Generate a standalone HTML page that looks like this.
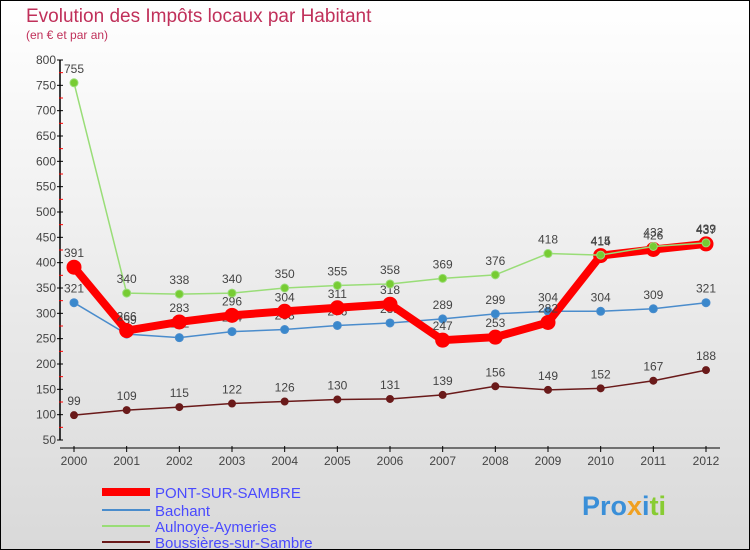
<!DOCTYPE html>
<html><head><meta charset="utf-8"><style>
body{margin:0}
#c{width:750px;height:550px;position:relative;overflow:hidden;font-family:"Liberation Sans",sans-serif}
</style></head><body>
<div id="c">
<svg width="750" height="550" xmlns="http://www.w3.org/2000/svg" id="svg">
<defs><linearGradient id="bg" x1="0" y1="0" x2="0" y2="1"><stop offset="0" stop-color="#ffffff"/><stop offset="1" stop-color="#d9d9d9"/></linearGradient></defs>
<rect x="0.5" y="0.5" width="749" height="549" fill="url(#bg)" stroke="#000"/>
<text x="26" y="22" font-size="19" fill="#c0305a">Evolution des Impôts locaux par Habitant</text>
<text x="26" y="39" font-size="12" fill="#c0305a">(en € et par an)</text>
<g id="axes"></g>
<g id="series"></g>
<g id="legend" font-size="15" fill="#4a4aff">
<line x1="102" y1="492" x2="150" y2="492" stroke="#f00" stroke-width="8"/>
<text x="155" y="498">PONT-SUR-SAMBRE</text>
<line x1="102" y1="510" x2="150" y2="510" stroke="#4a8ccc" stroke-width="2"/>
<text x="155" y="516">Bachant</text>
<line x1="102" y1="526" x2="150" y2="526" stroke="#99dd77" stroke-width="2"/>
<text x="155" y="532">Aulnoye-Aymeries</text>
<line x1="102" y1="542" x2="150" y2="542" stroke="#6a1a1a" stroke-width="2"/>
<text x="155" y="548">Boussières-sur-Sambre</text>
</g>
<text x="582" y="515" font-size="27" font-weight="bold"><tspan fill="#3a8fd8">Pro</tspan><tspan fill="#f0a020">x</tspan><tspan fill="#3a8fd8">i</tspan><tspan fill="#88cc33">ti</tspan></text>
</svg>
</div>
<script>
const years=[2000,2001,2002,2003,2004,2005,2006,2007,2008,2009,2010,2011,2012];
const pont=[391,266,283,296,304,311,318,247,253,282,414,426,437];
const bachant=[321,259,252,264,268,276,281,289,299,304,304,309,321];
const aulnoye=[755,340,338,340,350,355,358,369,376,418,415,432,439];
const bouss=[99,109,115,122,126,130,131,139,156,149,152,167,188];
const yTicks=[50,100,150,200,250,300,350,400,450,500,550,600,650,700,750,800];
const NS="http://www.w3.org/2000/svg";
function xS(i){return 74+i*(706-74)/(years.length-1);}
function yS(v){return 440-(v-50)*380/750;}
function mk(t,a,p){const e=document.createElementNS(NS,t);for(const k in a)e.setAttribute(k,a[k]);p.appendChild(e);return e;}
const ax=document.getElementById('axes');
const yl=mk('line',{x1:60,y1:60,x2:60,y2:440,stroke:'#000','stroke-width':1.5},ax);


yTicks.forEach((v,k)=>{
  mk('line',{x1:57,y1:yS(v),x2:63,y2:yS(v),stroke:'#000'},ax);
  if(k<yTicks.length-1)mk('line',{x1:59,y1:yS(v+25),x2:63,y2:yS(v+25),stroke:'#f00'},ax);
  const t=mk('text',{x:56,y:yS(v)+4,'font-size':12,'text-anchor':'end',fill:'#444'},ax);
  t.textContent=v;
  
  
});
mk('line',{x1:60,y1:448,x2:720,y2:448,stroke:'#000','stroke-width':1},ax);
years.forEach((y,i)=>{
  mk('line',{x1:xS(i),y1:446,x2:xS(i),y2:452,stroke:'#000'},ax);
  const t=mk('text',{x:xS(i),y:465,'font-size':12,'text-anchor':'middle',fill:'#444'},ax);
  t.textContent=y;
  
  
});
const sg=document.getElementById('series');
function draw(vals,name,color,w,r,fill){
  const g=mk('g',{},sg);
  
  
  const pl=mk('polyline',{points:vals.map((v,i)=>xS(i)+','+yS(v)).join(' '),fill:'none',stroke:color,'stroke-width':w,'stroke-linejoin':'round'},g);
  
  
  vals.forEach((v,i)=>{
    const c=mk('circle',{cx:xS(i),cy:yS(v),r:r,fill:fill,stroke:color,'stroke-width':1},g);
    
    
    const t=mk('text',{x:xS(i),y:yS(v)-10,'font-size':12,'text-anchor':'middle',fill:'#444'},g);
    t.textContent=v;
    
    
  });
}
draw(bouss,'boussieres','#6a1a1a',1.5,3.5,'#6a1a1a');
draw(bachant,'bachant','#4a8ccc',1.5,4,'#3a88cc');
draw(pont,'pont-sur-sambre','#f00',8,7,'#f00');
draw(aulnoye,'aulnoye','#99dd77',1.5,4,'#77cc33');
</script>
</body></html>
